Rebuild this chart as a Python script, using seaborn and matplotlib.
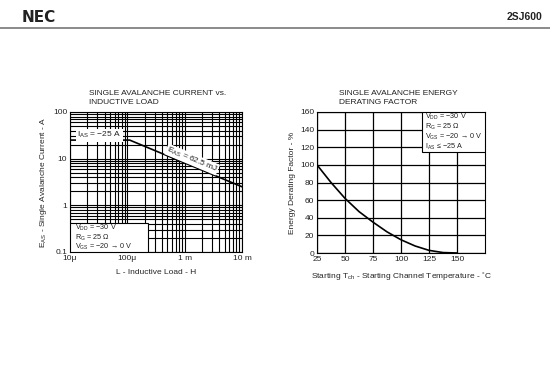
import numpy as np
import pandas as pd
import matplotlib
matplotlib.use("Agg")
import matplotlib.pyplot as plt
import matplotlib.ticker as mticker
from matplotlib.patches import Rectangle
import seaborn as sns

# ---- data ----
load_h = [1e-5, 1.1e-4, 1e-2]
current_a = [25, 25, 2.5]
left_xticks = [1e-5, 1e-4, 1e-3, 1e-2]
left_xticklabels = ["10\u03bc", "100\u03bc", "1 m", "10 m"]
left_yticks = [0.1, 1, 10, 100]
left_yticklabels = ["0.1", "1", "10", "100"]

temp_c = [25, 37.5, 50, 62.5, 75, 87.5, 100, 112.5, 125, 137.5, 150]
derating = [100, 80, 62, 47, 35, 24, 15, 8, 3, 0.5, 0]
right_xticks = [25, 50, 75, 100, 125, 150]
right_yticks = [0, 20, 40, 60, 80, 100, 120, 140, 160]

left_box_lines = ["V$_{DD}$ = \u221230 V", "R$_G$ = 25 \u03a9", "V$_{GS}$ = \u221220 \u2192 0 V"]
right_box_lines = ["V$_{DD}$ = \u221230 V", "R$_G$ = 25 \u03a9",
                   "V$_{GS}$ = \u221220 \u2192 0 V", "I$_{AS}$ \u2264 \u221225 A"]

sns.set_style("white")
plt.rcParams['font.family'] = ['Liberation Sans', 'DejaVu Sans']
plt.rcParams['mathtext.fontset'] = 'custom'
plt.rcParams['mathtext.rm'] = 'Liberation Sans'
plt.rcParams['mathtext.it'] = 'Liberation Sans'
plt.rcParams['text.color'] = '#222222'

fig = plt.figure(figsize=(5.5, 3.67), dpi=100)
fs = 6
bfs = 5.2

# header
fig.text(0.040, 0.953, "NEC", fontsize=11, fontweight='bold', va='center', ha='left',
         family='DejaVu Sans')
fig.text(0.986, 0.953, "2SJ600", fontsize=7.5, fontweight='bold', va='center', ha='right')
fig.add_artist(plt.Line2D([0, 1], [1 - 28/367, 1 - 28/367], color='#777777', lw=1.2))

# ---- left chart ----
ax1 = fig.add_axes([70/550, 1 - 252/367, 172/550, 140/367])
df1 = pd.DataFrame({"L": load_h, "I": current_a})
sns.lineplot(data=df1, x="L", y="I", ax=ax1, color='black', lw=1.2, zorder=3)
ax1.set_xscale('log')
ax1.set_yscale('log')
ax1.set_xlim(1e-5, 1e-2)
ax1.set_ylim(0.1, 100)
ax1.xaxis.set_major_locator(mticker.FixedLocator(left_xticks))
ax1.xaxis.set_minor_locator(mticker.LogLocator(base=10, subs=np.arange(2, 10)))
ax1.yaxis.set_major_locator(mticker.FixedLocator(left_yticks))
ax1.yaxis.set_minor_locator(mticker.LogLocator(base=10, subs=np.arange(2, 10)))
ax1.xaxis.set_minor_formatter(mticker.NullFormatter())
ax1.yaxis.set_minor_formatter(mticker.NullFormatter())
ax1.set_xticklabels(left_xticklabels)
ax1.set_yticklabels(left_yticklabels)
ax1.grid(True, which='both', color='black', lw=0.8)
ax1.tick_params(which='both', length=0, labelsize=fs, pad=2, labelcolor='#222222')
for s in ax1.spines.values():
    s.set_color('black')
    s.set_linewidth(0.8)
ax1.set_xlabel("L - Inductive Load - H", fontsize=fs, labelpad=5)
ax1.set_ylabel("E$_{AS}$ - Single Avalanche Current - A", fontsize=fs, labelpad=3)
ax1.set_title("SINGLE AVALANCHE CURRENT vs.\nINDUCTIVE LOAD", fontsize=fs, loc='left',
              x=0.11, pad=6, linespacing=1.3)
ax1.add_patch(Rectangle((1e-5, 0.1), 2.3e-4 - 1e-5, 0.42 - 0.1, facecolor='white',
                        edgecolor='black', lw=0.8, zorder=4))
for i, line in enumerate(left_box_lines):
    ax1.text(0.03, 0.172 - i * 0.068, line, transform=ax1.transAxes,
             fontsize=bfs, va='center', ha='left', zorder=5)
ax1.text(1.35e-5, 32, "I$_{AS}$ = \u221225 A", fontsize=fs, va='center', ha='left', zorder=5,
         bbox=dict(facecolor='white', edgecolor='none', pad=1))
ax1.text(1.35e-3, 9.6, "E$_{AS}$ = 62.5 mJ", fontsize=fs, va='center', ha='center', zorder=5,
         rotation=-22.6, bbox=dict(facecolor='white', edgecolor='none', pad=0.5))

# ---- right chart ----
ax2 = fig.add_axes([317/550, 1 - 253/367, 168/550, 141/367])
df2 = pd.DataFrame({"T": temp_c, "F": derating})
sns.lineplot(data=df2, x="T", y="F", ax=ax2, color='black', lw=1.2, zorder=3)
ax2.set_xlim(25, 175)
ax2.set_ylim(0, 160)
ax2.set_xticks(right_xticks)
ax2.set_yticks(right_yticks)
ax2.grid(True, color='black', lw=0.9)
ax2.tick_params(length=0, labelsize=fs, pad=2, labelcolor='#222222')
for s in ax2.spines.values():
    s.set_color('black')
    s.set_linewidth(0.8)
ax2.set_xlabel("Starting T$_{ch}$ - Starting Channel Temperature - \u02daC", fontsize=fs, labelpad=5)
ax2.set_ylabel("Energy Derating Factor - %", fontsize=fs, labelpad=3)
ax2.set_title("SINGLE AVALANCHE ENERGY\nDERATING FACTOR", fontsize=fs, loc='left',
              x=0.13, pad=6, linespacing=1.3)
ax2.add_patch(Rectangle((118.7, 115), 175 - 118.7, 45, facecolor='white',
                        edgecolor='black', lw=0.8, zorder=4))
for i, line in enumerate(right_box_lines):
    ax2.text(0.64, 0.965 - i * 0.07, line, transform=ax2.transAxes,
             fontsize=bfs, va='center', ha='left', zorder=5)

fig.savefig("out.png", dpi=100, facecolor='white')
